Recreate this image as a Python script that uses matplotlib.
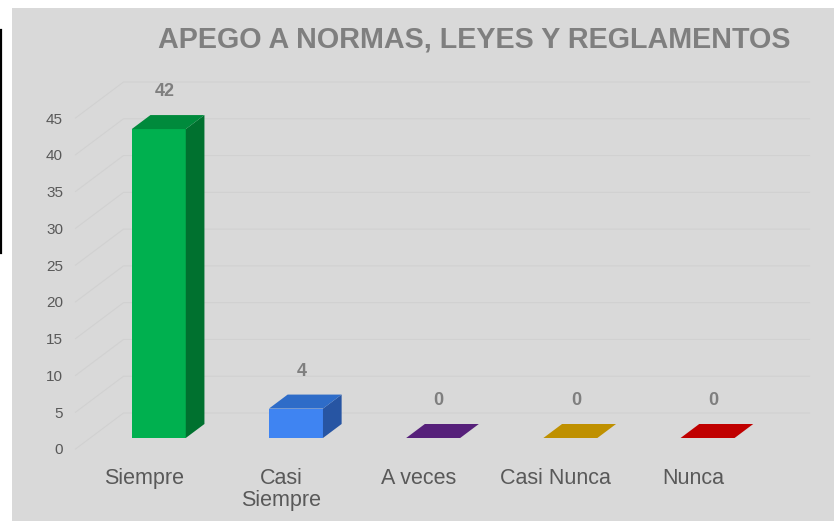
import matplotlib
matplotlib.use("Agg")
import matplotlib.pyplot as plt
from matplotlib.patches import Polygon, Rectangle
from matplotlib.lines import Line2D

categories = ["Siempre", "Casi\nSiempre", "A veces", "Casi Nunca", "Nunca"]
values = [42, 4, 0, 0, 0]
yticks = [0, 5, 10, 15, 20, 25, 30, 35, 40, 45]
title = "APEGO A NORMAS, LEYES Y REGLAMENTOS"

front_colors = ["#00b04f", "#3f84f2", "#5a237c", "#bf9000", "#c00000"]
top_colors = ["#008a3c", "#2e6cc8", "#56207a", "#bf9000", "#c00000"]
side_colors = ["#00712f", "#2755a3", "#4a1a66", "#a07800", "#a00000"]

W, H = 834, 521
fig = plt.figure(figsize=(W / 100, H / 100), dpi=100, facecolor="white")
plt.rcParams["font.family"] = ["Liberation Sans", "DejaVu Sans"]

# background panel and left black line
fig.patches.append(Rectangle((12 / W, 0), 1 - 12 / W, 1 - 8 / H, transform=fig.transFigure,
                             facecolor="#d9d9d9", edgecolor="none", zorder=-10))
fig.lines.append(Line2D([1 / W, 1 / W], [1 - 30 / H, 1 - 253 / H], transform=fig.transFigure,
                        color="black", lw=1.6, zorder=-10))

# front plane axes
x0p, x1p = 75.5, 761.5
y0p, y1p = 449, 118
ax = fig.add_axes([x0p / W, (H - y0p) / H, (x1p - x0p) / W, (y0p - y1p) / H])
ax.set_xlim(-0.5, 4.5)
ax.set_ylim(0, 45)
ax.patch.set_visible(False)
for s in ax.spines.values():
    s.set_visible(False)

px_per_x = (x1p - x0p) / 5.0
px_per_y = (y0p - y1p) / 45.0
DX = 48 / px_per_x   # depth offset in x data units
DY = 36 / px_per_y   # depth offset in y data units

# gridlines on the floor-side and back wall
for v in yticks:
    ax.plot([-0.5, -0.5 + DX, 4.5 + DX], [v, v + DY, v + DY], color="#d1d1d1", lw=0.8,
            clip_on=False, zorder=1)

ax.set_yticks(yticks)
ax.set_yticklabels([str(t) for t in yticks], color="#595959", fontsize=11)
ax.set_xticks(range(len(categories)))
ax.set_xticklabels(categories, color="#595959", fontsize=15.5, linespacing=1.05)
ax.tick_params(axis="y", length=0, pad=9)
ax.tick_params(axis="x", length=0, pad=14)

bw = 54 / px_per_x
d0, d1 = 11 / 36, 25 / 36
for i, v in enumerate(values):
    xl = i - bw / 2 + d0 * DX
    xr = i + bw / 2 + d0 * DX
    yb = d0 * DY
    yt = v + d0 * DY
    ddx = (d1 - d0) * DX
    ddy = (d1 - d0) * DY
    if v > 0:
        ax.add_patch(Polygon([(xl, yb), (xr, yb), (xr, yt), (xl, yt)], closed=True,
                             facecolor=front_colors[i], edgecolor="none", clip_on=False, zorder=3))
        ax.add_patch(Polygon([(xr, yb), (xr + ddx, yb + ddy), (xr + ddx, yt + ddy), (xr, yt)],
                             closed=True, facecolor=side_colors[i], edgecolor="none",
                             clip_on=False, zorder=3))
    ax.add_patch(Polygon([(xl, yt), (xr, yt), (xr + ddx, yt + ddy), (xl + ddx, yt + ddy)],
                         closed=True, facecolor=top_colors[i], edgecolor="none",
                         clip_on=False, zorder=3))
    ax.annotate(str(v), xy=(i + 0.42 * DX, v + 0.5 * DY), xytext=(0, 22),
                textcoords="offset points", ha="center", va="center",
                fontsize=13, fontweight="bold", color="#7f7f7f", annotation_clip=False)

fig.text(474.5 / W, 1 - 40 / H, title, ha="center", va="center", fontsize=20.7,
         fontweight="bold", color="#7f7f7f")

fig.savefig("out.png", dpi=100, facecolor="white")
